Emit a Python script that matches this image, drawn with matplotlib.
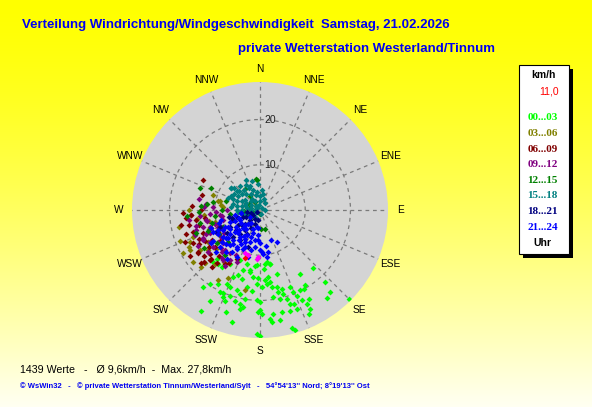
import numpy as np
import matplotlib
matplotlib.use("Agg")
import matplotlib.pyplot as plt
from matplotlib.patches import Rectangle
from matplotlib.transforms import ScaledTranslation

# ---------------- data: (direction in degrees, speed in km/h) ----------------
title = "Verteilung Windrichtung/Windgeschwindigkeit  Samstag, 21.02.2026"
subtitle = "private Wetterstation Westerland/Tinnum"
stats_text = "1439 Werte   -   \u00d8 9,6km/h  -  Max. 27,8km/h"
footer = ("\u00a9 WsWin32   -   \u00a9 private Wetterstation Tinnum/Westerland/Sylt   -   "
          "54\u00b054'13'' Nord; 8\u00b019'13'' Ost")
compass = ["N", "NNE", "NE", "ENE", "E", "ESE", "SE", "SSE",
           "S", "SSW", "SW", "WSW", "W", "WNW", "NW", "NNW"]
ring_values = [10, 20]
unit_label = "km/h"
current_value = "11,0"
legend_labels = ["00...03", "03...06", "06...09", "09...12",
                 "12...15", "15...18", "18...21", "21...24"]
legend_colors = ["#00FF00", "#808000", "#800000", "#800080",
                 "#008000", "#008080", "#000080", "#0000FF"]

h00_03 = [(164.7, 14.6), (148.2, 16.6), (137.6, 17.3), (138.2, 21.4), (139.4, 23.9),
          (142.8, 24.5), (134.8, 27.8), (174.6, 11.9), (169.5, 12.2), (185.1, 12.5),
          (189.2, 13.9), (195.5, 13.8), (198.4, 15.2), (195.0, 15.7), (201.8, 16.0),
          (216.7, 21.1), (214.0, 19.8), (209.6, 18.7), (204.4, 17.9), (206.1, 20.2),
          (201.5, 18.2), (203.9, 20.1), (202.9, 20.9), (199.2, 20.2), (196.3, 18.5),
          (193.5, 19.0), (189.9, 17.3), (185.9, 17.9), (189.6, 19.9), (192.1, 21.2),
          (189.8, 21.8), (195.5, 20.8), (182.6, 16.3), (178.8, 17.0), (174.8, 16.4),
          (172.1, 16.1), (172.9, 14.9), (175.9, 15.6), (182.1, 20.0), (180.0, 20.4),
          (180.0, 22.2), (181.0, 22.6), (179.0, 23.0), (171.4, 17.2), (171.3, 19.5),
          (167.7, 17.4), (167.4, 18.6), (164.6, 18.1), (164.3, 19.2), (167.3, 20.1),
          (158.6, 18.3), (157.8, 19.6), (163.2, 20.5), (162.2, 21.8), (156.7, 20.6),
          (153.4, 19.9), (149.0, 19.4), (151.0, 19.9), (155.2, 22.0), (153.4, 23.2),
          (151.3, 22.4), (153.0, 24.5), (160.3, 22.0), (159.5, 23.3), (163.3, 23.2),
          (168.0, 23.1), (172.7, 23.1), (174.7, 24.2), (169.7, 24.8), (174.0, 24.9),
          (209.1, 22.9), (210.1, 25.9), (198.5, 23.8), (194.2, 25.6), (181.5, 27.4),
          (180.0, 27.8), (164.9, 27.0), (163.8, 27.7), (155.0, 25.4), (191.5, 22.3),
          (201.3, 21.5), (201.6, 12.0), (209.0, 13.6), (214.0, 15.2), (221.0, 14.4),
          (172.6, 11.6), (169.6, 12.2), (183.0, 12.2), (189.5, 13.5), (181.5, 15.0),
          (194.0, 12.2), (222.0, 15.5), (218.0, 15.1), (176.0, 13.0), (186.0, 14.8)]

h03_06 = [(287.6, 10.9), (275.0, 8.3), (241.0, 19.4), (242.6, 17.6), (226.0, 18.0),
          (211.0, 18.0), (190.7, 17.9), (226.5, 16.9), (248.0, 15.9), (282.0, 9.1),
          (255.0, 10.3), (240.0, 17.8), (281.5, 9.5), (277.0, 8.7), (250.0, 12.0),
          (238.0, 13.5), (258.0, 11.5), (232.0, 14.5), (220.0, 15.5), (245.0, 17.0),
          (265.0, 12.5), (215.0, 14.0), (236.0, 16.0), (228.0, 13.0), (262.0, 14.0),
          (258.0, 18.2), (249.0, 19.0), (270.0, 15.8), (232.0, 18.8), (205.0, 16.5)]

h06_09 = [(266.0, 15.3), (261.0, 14.3), (252.0, 15.6), (241.0, 15.3), (241.0, 14.0),
          (236.0, 16.6), (229.0, 14.7), (225.0, 15.2), (227.0, 16.8), (231.0, 12.9),
          (232.0, 10.9), (243.0, 10.5), (298.0, 14.3), (266.0, 15.2), (235.0, 16.7),
          (231.0, 16.0), (225.0, 15.7), (248.0, 13.5), (256.0, 13.8), (238.0, 12.5),
          (222.0, 13.6), (245.0, 15.0), (258.0, 16.0), (205.0, 12.0), (210.0, 13.5),
          (270.0, 13.0), (250.0, 11.5), (234.0, 14.0), (219.0, 15.0), (262.0, 12.2),
          (268.0, 17.0), (259.0, 17.8), (252.0, 17.2), (244.0, 16.5), (228.0, 17.5),
          (220.0, 16.5), (213.0, 14.2), (273.0, 15.0), (285.0, 13.2), (264.0, 16.5),
          (247.0, 18.0), (237.0, 18.5)]

h09_12 = [(264.0, 13.4), (273.0, 12.5), (270.0, 7.3), (252.6, 14.8), (216.0, 13.8),
          (207.5, 11.3), (211.0, 13.0), (251.6, 11.7), (253.0, 10.4), (246.4, 13.0),
          (232.0, 13.2), (233.0, 11.6), (255.0, 8.4), (263.0, 9.0), (215.0, 11.7),
          (237.8, 13.1), (242.0, 14.3), (241.6, 10.9), (246.5, 9.3), (221.0, 11.8),
          (259.5, 12.1), (274.0, 10.4), (248.0, 10.0), (238.0, 9.5), (228.0, 11.0),
          (222.0, 12.5), (258.0, 12.0), (244.0, 14.0), (265.0, 11.0), (212.0, 14.5),
          (256.0, 14.5), (249.0, 15.5), (240.0, 15.8), (231.0, 14.8), (226.0, 12.0),
          (236.0, 10.5), (261.0, 8.5), (268.0, 9.8), (253.0, 13.2), (245.0, 12.2),
          (218.0, 13.5), (204.0, 12.5), (276.0, 12.0), (280.0, 13.8), (262.0, 15.8)]

h12_15 = [(274.0, 13.1), (294.0, 11.8), (324.0, 5.7), (353.0, 7.0), (177.0, 4.1),
          (166.0, 4.4), (270.0, 8.5), (262.0, 6.7), (324.0, 3.7), (354.0, 6.7),
          (255.0, 11.0), (248.0, 12.5), (262.0, 10.0), (240.0, 10.5), (268.0, 13.5),
          (280.0, 10.5), (233.0, 12.0), (245.0, 9.0), (225.0, 10.0), (285.0, 7.8),
          (281.0, 2.5), (252.0, 1.6), (315.0, 1.1), (265.0, 3.5), (233.0, 2.5),
          (180.0, 0.8), (331.0, 2.1), (300.0, 2.8), (250.0, 3.0), (258.0, 13.5),
          (236.0, 15.0), (290.0, 14.2), (276.0, 11.8), (250.0, 15.0), (218.0, 12.5),
          (265.0, 16.2)]

h15_18 = [(307.0, 8.0), (309.0, 6.5), (5.0, 4.4), (297.0, 3.4), (308.0, 8.0),
          (200.0, 2.0), (301.0, 5.8), (311.0, 5.3), (319.0, 4.6), (330.0, 4.0),
          (343.0, 3.4), (0.0, 3.0), (292.0, 5.4), (297.0, 4.5), (315.0, 2.8),
          (333.0, 2.2), (0.0, 2.0), (281.0, 5.1), (284.0, 4.1), (279.0, 3.0),
          (297.0, 2.2), (315.0, 1.4), (270.0, 5.0), (270.0, 4.0), (270.0, 2.0),
          (287.0, 1.0), (256.0, 4.1), (252.0, 3.2), (243.0, 2.2), (243.0, 1.1),
          (45.0, 0.7), (34.0, 1.8), (322.0, 5.7), (332.0, 5.4), (342.0, 4.7),
          (313.0, 6.2), (301.0, 6.8), (293.0, 6.5), (282.0, 6.1), (90.0, 1.0),
          (163.0, 1.0), (331.0, 6.3), (219.0, 1.9), (264.0, 5.0), (325.0, 3.0),
          (305.0, 4.0), (288.0, 3.6), (350.0, 4.0), (338.0, 5.8), (296.0, 7.2),
          (320.0, 7.0), (335.0, 7.2), (345.0, 6.6), (355.0, 5.8), (310.0, 7.6),
          (290.0, 7.5), (275.0, 6.5), (285.0, 2.0), (300.0, 0.8), (350.0, 1.2),
          (10.0, 3.5), (20.0, 2.5)]

h18_21 = [(248.0, 4.0), (225.0, 3.1), (228.0, 4.5), (210.0, 2.2), (249.5, 6.3),
          (254.0, 5.4), (241.0, 7.6), (235.0, 9.0), (247.4, 9.6), (225.0, 8.4),
          (213.0, 8.0), (197.8, 8.5), (240.0, 2.2), (190.0, 2.2), (260.0, 4.2),
          (262.0, 3.0), (240.0, 0.8), (250.0, 2.0), (236.0, 6.0), (218.0, 5.5),
          (258.0, 7.0), (205.0, 4.5), (245.0, 3.5), (230.0, 5.2), (220.0, 6.8),
          (215.0, 3.8), (235.0, 2.0), (200.0, 3.2), (255.0, 6.5), (243.0, 10.8),
          (230.0, 7.0), (208.0, 6.0)]

h21_24 = [(152.0, 7.9), (169.0, 9.5), (176.0, 9.7), (180.0, 7.4), (188.0, 8.2),
          (197.5, 7.4), (208.0, 6.3), (196.0, 5.4), (222.0, 5.5), (234.6, 6.4),
          (216.7, 7.4), (221.4, 8.9), (232.0, 8.5), (225.0, 10.5), (212.7, 9.6),
          (203.5, 9.3), (214.0, 11.2), (234.0, 10.0), (244.7, 10.3), (244.6, 8.6),
          (248.8, 7.2), (243.4, 4.9), (221.0, 4.0), (190.7, 3.8), (235.7, 2.7),
          (206.6, 11.6), (194.0, 10.7), (177.5, 9.3), (237.0, 12.4), (227.7, 12.0),
          (205.0, 7.8), (189.3, 6.8), (229.4, 7.4), (218.5, 11.9), (218.0, 9.6),
          (209.0, 8.5), (223.0, 7.1), (228.0, 9.4), (216.0, 5.1), (198.0, 6.2),
          (184.0, 5.6), (241.5, 9.3), (183.0, 6.7), (172.0, 10.5), (208.0, 7.2),
          (256.0, 8.9), (242.5, 8.0), (259.0, 5.7), (260.0, 4.2), (230.0, 11.0),
          (215.0, 3.5), (225.0, 4.8), (235.0, 5.2), (245.0, 6.0), (250.0, 5.0),
          (238.0, 7.8), (226.0, 6.5), (212.0, 6.8), (202.0, 8.8), (215.0, 8.2),
          (230.0, 9.8), (240.0, 10.8), (220.0, 10.2), (210.0, 10.0), (245.0, 11.5),
          (252.0, 9.5), (200.0, 4.5), (186.0, 4.0), (193.0, 9.0), (180.0, 8.8),
          (170.0, 8.0), (160.0, 7.0), (250.0, 11.5), (236.0, 13.0), (226.0, 13.5),
          (214.0, 13.0)]

highlight_magenta = [(199.0, 10.1), (182.0, 10.5), (195.0, 10.4), (184.0, 10.8)]
highlight_red = [(197.0, 11.0)]

groups = [h00_03, h03_06, h06_09, h09_12, h12_15, h15_18, h18_21, h21_24]

# ---------------- figure ----------------
W, H, DPI = 592, 407, 100
fig = plt.figure(figsize=(W / DPI, H / DPI), dpi=DPI)

bg = fig.add_axes([0, 0, 1, 1], zorder=0)
bg.set_xlim(0, W)
bg.set_ylim(H, 0)
bg.axis("off")
t = np.linspace(0, 1, 256) ** 1.4
grad = np.zeros((256, 2, 3))
grad[:, :, 0] = 1.0
grad[:, :, 1] = 1.0
grad[:, :, 2] = (t * 0.95)[:, None]
bg.imshow(grad, extent=[0, W, H, 0], aspect="auto", interpolation="bilinear")

sans = ["Liberation Sans", "DejaVu Sans"]
serif = ["Liberation Serif", "DejaVu Serif"]

bg.text(22, 25, title, color="#0000F0", fontsize=9.5, fontweight="bold",
        family=sans, ha="left", va="center")
bg.text(238, 49, subtitle, color="#0000F0", fontsize=9.5, fontweight="bold",
        family=sans, ha="left", va="center")
bg.text(20, 370, stats_text, color="black", fontsize=7.7, family=sans,
        ha="left", va="center")
bg.text(20, 386, footer, color="#0000F0", fontsize=5.5, fontweight="bold",
        family=sans, ha="left", va="center")

# legend box with shadow
bx0, by0, bx1, by1 = 519, 65, 569, 254
bg.add_patch(Rectangle((bx0 + 4, by0 + 4), bx1 - bx0, by1 - by0,
                       facecolor="black", edgecolor="none", zorder=2))
bg.add_patch(Rectangle((bx0, by0), bx1 - bx0, by1 - by0,
                       facecolor="white", edgecolor="black", lw=0.8, zorder=3))
bg.text(543, 75, unit_label, color="black", fontsize=7.5, fontweight="bold",
        family=sans, ha="center", va="center", zorder=4)
bg.text(549, 92, current_value, color="red", fontsize=7.5,
        family=sans, ha="center", va="center", zorder=4)
for i, (lab, col) in enumerate(zip(legend_labels, legend_colors)):
    bg.text(542.5, 118 + 15.6 * i, lab, color=col, fontsize=8, fontweight="bold",
            family=serif, ha="center", va="center", zorder=4)
bg.text(542, 243, "Uhr", color="black", fontsize=7.5, fontweight="bold",
        family=sans, ha="center", va="center", zorder=4)

# polar plot
cx, cy, R = 260, 210, 128
ax = fig.add_axes([(cx - R) / W, (H - cy - R) / H, 2 * R / W, 2 * R / H],
                  projection="polar", zorder=1)
rmax = 28.3
ax.set_theta_zero_location("N")
ax.set_theta_direction(-1)
ax.set_ylim(0, rmax)
ax.set_facecolor("#D4D4D4")
ax.spines["polar"].set_visible(False)
ax.set_thetagrids(np.arange(0, 360, 22.5), labels=[""] * 16)
ax.set_rgrids(ring_values, labels=[""] * len(ring_values))
ax.grid(True, color="#7A7A7A", linestyle=(0, (3, 3)), linewidth=0.9)
ax.tick_params(axis="both", length=0, pad=0)

for k, lab in enumerate(compass):
    ax.text(np.deg2rad(k * 22.5), rmax * 141 / R, lab, ha="center", va="center",
            fontsize=7.3, family=sans, color="black", clip_on=False)

off = ScaledTranslation(10 / DPI, 0, fig.dpi_scale_trans)
for rv in ring_values:
    ax.text(0, rv, str(rv), transform=ax.transData + off, ha="center", va="center",
            fontsize=7.5, family=sans, color="#202020")

ax.scatter([0], [0], marker="s", s=14, color="#9A9A9A", linewidths=0, zorder=2)

for pts, col in zip(groups, legend_colors):
    arr = np.array(pts)
    ax.scatter(np.deg2rad(arr[:, 0]), arr[:, 1], marker="D", s=9, color=col,
               linewidths=0, zorder=3)
for pts, col in [(highlight_magenta, "#FF00FF"), (highlight_red, "#FF0000")]:
    arr = np.array(pts)
    ax.scatter(np.deg2rad(arr[:, 0]), arr[:, 1], marker="D", s=9, color=col,
               linewidths=0, zorder=4)

fig.savefig("out.png", dpi=DPI)
